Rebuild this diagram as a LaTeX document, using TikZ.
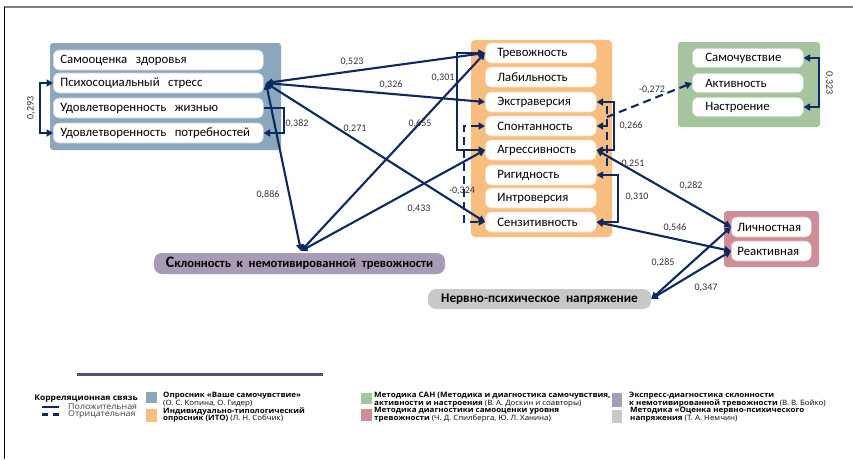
\documentclass[tikz,border=0pt]{standalone}
\usepackage{fontspec}
\setmainfont{Carlito}
\newfontfamily\legfont{Open Sans}[FakeStretch=1.08]
\usetikzlibrary{arrows.meta,calc}
\definecolor{navy}{RGB}{14,40,98}
\definecolor{bluebox}{RGB}{139,167,189}
\definecolor{orangebox}{RGB}{247,190,128}
\definecolor{greenbox}{RGB}{166,196,158}
\definecolor{redbox}{RGB}{205,142,152}
\definecolor{purplebox}{RGB}{168,155,182}
\definecolor{graybox}{RGB}{200,200,200}
\definecolor{legline}{RGB}{90,75,120}
\definecolor{lbltext}{RGB}{50,50,50}
\newcommand{\legfn}{\fontsize{7.3}{7}\selectfont\mdseries}
\tikzset{
  itm/.style={fill=white, rounded corners=6pt, minimum height=20pt, anchor=west, align=left, line width=0.6pt, font=\fontsize{12.8}{14}\selectfont},
  bitm/.style={itm, draw=bluebox!50!white, text width=196pt, inner xsep=7pt},
  oitm/.style={itm, draw=orangebox!60!white, text width=87pt, inner xsep=12pt},
  gitm/.style={itm, draw=greenbox!60!white, text width=85pt, inner xsep=13pt, minimum height=19pt},
  ritm/.style={itm, draw=redbox!60!white, text width=68pt, inner xsep=6pt},
  link/.style={draw=navy, line width=2.1pt},
  neg/.style={link, dash pattern=on 8pt off 5pt},
  lbl/.style={font=\fontsize{10}{12}\selectfont, text=lbltext, inner sep=0pt},
  leg/.style={anchor=west, inner sep=0pt, font=\legfont\fontsize{7.4}{7}\selectfont\bfseries},
  legs/.style={anchor=west, inner sep=0pt, font=\legfont\fontsize{8.2}{7}\selectfont, text=black!75},
}
\begin{document}
\begin{tikzpicture}[x=1pt,y=-1pt, >={Triangle[length=6.5pt,width=7pt]}]
\useasboundingbox (0,0) rectangle (853,459);
\fill[white] (0,0) rectangle (853,459);
% frame
\draw[gray, line width=1.5pt] (4,7) -- (853,7);
\draw[black, line width=1pt] (4,7) -- (4,459);

% group boxes
\fill[bluebox, rounded corners=3pt] (50,43) rectangle (281,150);
\fill[orangebox, rounded corners=4pt] (471,40) rectangle (612,237);
\fill[greenbox, rounded corners=3pt] (678,42) rectangle (820,127);
\fill[redbox, rounded corners=3pt] (724,211) rectangle (819,267);

% blue items
\node[bitm] (sam) at (53,60) {Самооценка\ \ здоровья};
\node[bitm] (psy) at (53,83) {Психосоциальный\ \ стресс};
\node[bitm] (udzh) at (53,108) {Удовлетворенность\ \ жизнью};
\node[bitm] (udp) at (53,133) {Удовлетворенность\ \ потребностей};

% ITO items
\node[oitm] (trev) at (485,53) {Тревожность};
\node[oitm] (lab) at (485,77) {Лабильность};
\node[oitm] (ekst) at (485,102) {Экстраверсия};
\node[oitm] (spont) at (485,126) {Спонтанность};
\node[oitm] (aggr) at (485,150) {Агрессивность};
\node[oitm] (rig) at (485,175) {Ригидность};
\node[oitm] (intro) at (485,198) {Интроверсия};
\node[oitm] (senz) at (485,222) {Сензитивность};

% SAN items
\node[gitm] (samch) at (692,58) {Самочувствие};
\node[gitm] (akt) at (692,83) {Активность};
\node[gitm] (nastr) at (692,107) {Настроение};

% Spielberger items
\node[ritm] (lich) at (731,227) {Личностная};
\node[ritm] (reakt) at (731,251) {Реактивная};

% single nodes
\node[fill=purplebox, rounded corners=8pt, minimum width=291pt, minimum height=21pt, inner sep=0pt,
      font=\fontsize{12.6}{14}\selectfont\bfseries] (skl) at (299.5,263.5)
      {{\fontsize{16}{16}\selectfont С}клонность\ \ к\ \ немотивированной\ \ тревожности};
\node[fill=graybox, rounded corners=8pt, minimum width=223pt, minimum height=20pt, inner sep=0pt,
      font=\fontsize{13.2}{14}\selectfont\bfseries] (nerv) at (539.5,299)
      {Нервно-психическое\ \ напряжение};
\coordinate (sk) at (301,251);
\coordinate (ps) at (266,83);

% brackets
\draw[link,<->] (psy.west) -- ++(-13,0) |- (udp.west);
\node[lbl, rotate=90] at (31,108) {0,293};
\draw[link,->] (udzh.east) -- ++(20,0) |- (udp.east);
\node[lbl] at (297,124) {0,382};

% from stress
\draw[link,<->] (ps) -- (trev.west);
\draw[link,<->] (ps) -- (ekst.west);
\draw[link,<->] (ps) -- (senz.west);
\draw[link,<->] (ps) -- (sk);
\node[lbl] at (352,62) {0,523};
\node[lbl] at (391,85) {0,326};
\node[lbl] at (355,129) {0,271};
\node[lbl] at (268,195) {0,886};

% from Склонность
\draw[link,<->] (sk) -- (trev.west);
\draw[link,<->] (sk) -- (aggr.west);
\node[lbl] at (420,124) {0,655};
\node[lbl] at (419,209) {0,433};

% ITO left brackets
\draw[link,<->] (trev.west) -- ++(-28,0) |- (aggr.west);
\node[lbl] at (443,78) {0,301};
\draw[neg,<->] (spont.west) -- ++(-21,0) |- (senz.west);
\node[lbl] at (462,191) {-0,324};

% ITO right brackets
\draw[link,<->] (ekst.east) -- ++(17,0) |- (aggr.east);
\node[lbl] at (631,126) {0,266};
\draw[link,<->] (rig.east) -- ++(21,0) |- (senz.east);
\node[lbl] at (637,197) {0,310};

% dashed to Активность
\coordinate (dj) at (607,117);
\draw[neg] (607,106) -- (607,171);
\draw[neg,<-] (spont.east) -- ++(11,0);
\draw[neg,->] (dj) -- (akt.west);
\node[lbl] at (652,90) {-0,272};

% SAN bracket
\draw[link,<->] (samch.east) -- ++(15,0) |- (nastr.east);
\node[lbl, rotate=-90] at (829,83) {0,323};

% to Spielberger
\draw[link,<->] (aggr.east) -- (lich.west);
\node[lbl] at (633,164) {0,251};
\node[lbl] at (691,186) {0,282};
\draw[link,<->] (senz.east) -- (reakt.west);
\node[lbl] at (675,228) {0,546};
\draw[link,<->] (nerv.east) -- (lich.west);
\draw[link,<->] (nerv.east) -- (reakt.west);
\node[lbl] at (663,263) {0,285};
\node[lbl] at (706,288) {0,347};

% legend
\draw[legline, line width=3pt] (77,374) -- (323,374);
\node[leg, anchor=east, font=\legfont\fontsize{7.9}{7}\selectfont\bfseries] (lt) at (138,399) {Корреляционная связь};
\node[legs] (lp) at (68,407) {Положительная};
\node[legs] (ln) at (68,414.5) {Отрицательная};
\coordinate (lp1) at (42,407); \coordinate (lp2) at (59,407);
\draw[link] (lp1) -- (lp2);
\coordinate (ln1) at (42,414.5); \coordinate (ln2) at (60,414.5);
\draw[link, dash pattern=on 6pt off 5pt] (ln1) -- (ln2);

\fill[bluebox] (146,392) rectangle (157,403);
\fill[orangebox] (146,409) rectangle (157,422);
\node[leg] at (163,396) {Опросник «Ваше самочувствие»};
\node[leg, font=\legfont\legfn] at (163,403.5) {(О. С. Копина, О. Гидер)};
\node[leg] at (163,411) {Индивидуально-типологический};
\node[leg] at (163,419) {опросник (ИТО) {\legfn (Л. Н. Собчик)}};

\fill[greenbox] (361,393) rectangle (372,404);
\fill[redbox] (361,409) rectangle (372,421);
\node[leg] at (374,396) {Методика САН (Методика и диагностика самочувствия,};
\node[leg] at (374,403.5) {активности и настроения {\legfn (В. А. Доскин и соавторы)}};
\node[leg] at (374,411) {Методика диагностики самооценки уровня};
\node[leg] at (374,419) {тревожности {\legfn (Ч. Д. Спилберга, Ю. Л. Ханина)}};

\fill[purplebox] (612,393) rectangle (622,407);
\fill[graybox] (612,410) rectangle (622,423);
\node[leg] at (629,395.5) {Экспресс-диагностика склонности};
\node[leg] at (629,403.5) {к немотивированной тревожности {\legfn (В. В. Бойко)}};
\node[leg] at (630,411) {Методика «Оценка нервно-психического};
\node[leg] at (630,419) {напряжения {\legfn (Т. А. Немчин)}};
\end{tikzpicture}
\end{document}
